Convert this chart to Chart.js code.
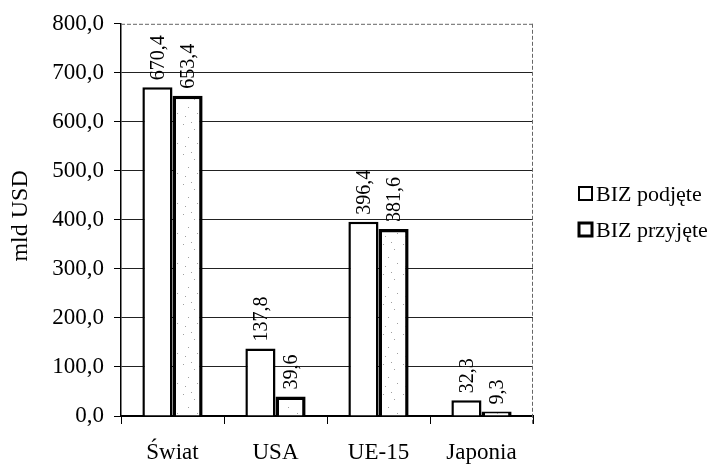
<!DOCTYPE html>
<html>
<head>
<meta charset="utf-8">
<script src="https://cdn.jsdelivr.net/npm/chart.js@4"></script>
<style>
  html, body { margin: 0; padding: 0; background: #fff; }
  #wrap { width: 722px; height: 465px; }
</style>
</head>
<body>
<div id="wrap"><canvas id="c" width="722" height="465"></canvas></div>
<script>
const categories = ['Świat', 'USA', 'UE-15', 'Japonia'];
const seriesNames = ['BIZ podjęte', 'BIZ przyjęte'];
const podjete = [670.4, 137.8, 396.4, 32.3];
const przyjete = [653.4, 39.6, 381.6, 9.3];
const yTicks = [0, 100, 200, 300, 400, 500, 600, 700, 800];
const yTitle = 'mld USD';

const FONT = "'Liberation Serif', 'Times New Roman', serif";
const fmt = v => v.toFixed(1).replace('.', ',');

// speckled fill pattern (fixed dot positions)
function makePattern() {
  const p = document.createElement('canvas');
  p.width = 20; p.height = 30;
  const g = p.getContext('2d');
  g.fillStyle = '#ffffff';
  g.fillRect(0, 0, 20, 30);
  g.fillStyle = '#a0a0a0';
  const dots = [[3,4],[14,9],[8,17],[17,23],[5,26],[11,2]];
  dots.forEach(d => g.fillRect(d[0], d[1], 1, 1));
  return g.createPattern(p, 'repeat');
}

const decorPlugin = {
  id: 'decor',
  afterDatasetsDraw(chart) {
    const ctx = chart.ctx;
    const area = chart.chartArea;
    // dashed top and right border
    ctx.save();
    ctx.strokeStyle = '#666';
    ctx.lineWidth = 1;
    ctx.setLineDash([4, 2]);
    ctx.beginPath();
    ctx.moveTo(area.left, area.top + 0.5);
    ctx.lineTo(area.right, area.top + 0.5);
    ctx.moveTo(area.right - 0.5, area.top);
    ctx.lineTo(area.right - 0.5, area.bottom + 8);
    ctx.stroke();
    ctx.restore();

    // rotated data labels
    ctx.save();
    ctx.fillStyle = '#000';
    ctx.font = '20px ' + FONT;
    ctx.textAlign = 'left';
    ctx.textBaseline = 'middle';
    chart.data.datasets.forEach((ds, di) => {
      const meta = chart.getDatasetMeta(di);
      meta.data.forEach((bar, i) => {
        ctx.save();
        ctx.translate(bar.x + 1, bar.y - 7);
        ctx.rotate(-Math.PI / 2);
        ctx.fillText(fmt(ds.data[i]), 0, 0);
        ctx.restore();
      });
    });
    ctx.restore();
  },
  afterDraw(chart) {
    const ctx = chart.ctx;
    const area = chart.chartArea;
    // y axis title
    ctx.save();
    ctx.fillStyle = '#000';
    ctx.font = '24px ' + FONT;
    ctx.textAlign = 'center';
    ctx.textBaseline = 'middle';
    ctx.translate(21, (area.top + area.bottom) / 2 - 4);
    ctx.rotate(-Math.PI / 2);
    ctx.fillText(yTitle, 0, 0);
    ctx.restore();

    // legend
    ctx.save();
    ctx.font = '22px ' + FONT;
    ctx.textAlign = 'left';
    ctx.textBaseline = 'middle';
    const items = [
      { label: seriesNames[0], lw: 2, y: 194 },
      { label: seriesNames[1], lw: 3, y: 230 }
    ];
    items.forEach(it => {
      ctx.fillStyle = '#fff';
      ctx.fillRect(579, it.y - 7, 13, 13);
      ctx.strokeStyle = '#000';
      ctx.lineWidth = it.lw;
      ctx.strokeRect(579, it.y - 7, 13, 13);
      ctx.fillStyle = '#000';
      ctx.fillText(it.label, 596, it.y + 1);
    });
    ctx.restore();
  }
};

const chart = new Chart(document.getElementById('c'), {
  type: 'bar',
  data: {
    labels: categories,
    datasets: [
      {
        label: seriesNames[0],
        data: podjete,
        backgroundColor: '#ffffff',
        borderColor: '#000000',
        borderWidth: 2.5,
        barPercentage: 1.0,
        categoryPercentage: 0.585
      },
      {
        label: seriesNames[1],
        data: przyjete,
        backgroundColor: makePattern(),
        borderColor: '#000000',
        borderWidth: 3.5,
        barPercentage: 1.0,
        categoryPercentage: 0.585
      }
    ]
  },
  options: {
    responsive: false,
    animation: false,
    devicePixelRatio: 1,
    layout: { padding: { top: 15, right: 189, bottom: 0, left: 0 } },
    plugins: {
      legend: { display: false },
      tooltip: { enabled: false }
    },
    scales: {
      x: {
        grid: {
          offset: true,
          drawOnChartArea: false,
          drawTicks: true,
          tickLength: 8,
          color: '#000'
        },
        border: { display: true, color: '#000', width: 2 },
        ticks: {
          color: '#000',
          font: { family: FONT, size: 23 },
          padding: 15,
          maxRotation: 0
        },
        afterFit(scale) { scale.height = 49; }
      },
      y: {
        min: 0,
        max: 800,
        afterBuildTicks(scale) { scale.ticks = yTicks.map(v => ({ value: v })); },
        grid: {
          color: ctx => (ctx.tick && ctx.tick.value === 800) ? 'rgba(0,0,0,0)' : '#222',
          lineWidth: 1,
          drawTicks: true,
          tickLength: 7,
          tickColor: '#000'
        },
        border: { display: true, color: '#000', width: 1.5 },
        ticks: {
          color: '#000',
          font: { family: FONT, size: 23 },
          padding: 10,
          callback: v => fmt(v)
        },
        afterFit(scale) { scale.width = 121; }
      }
    }
  },
  plugins: [decorPlugin]
});
</script>
</body>
</html>
